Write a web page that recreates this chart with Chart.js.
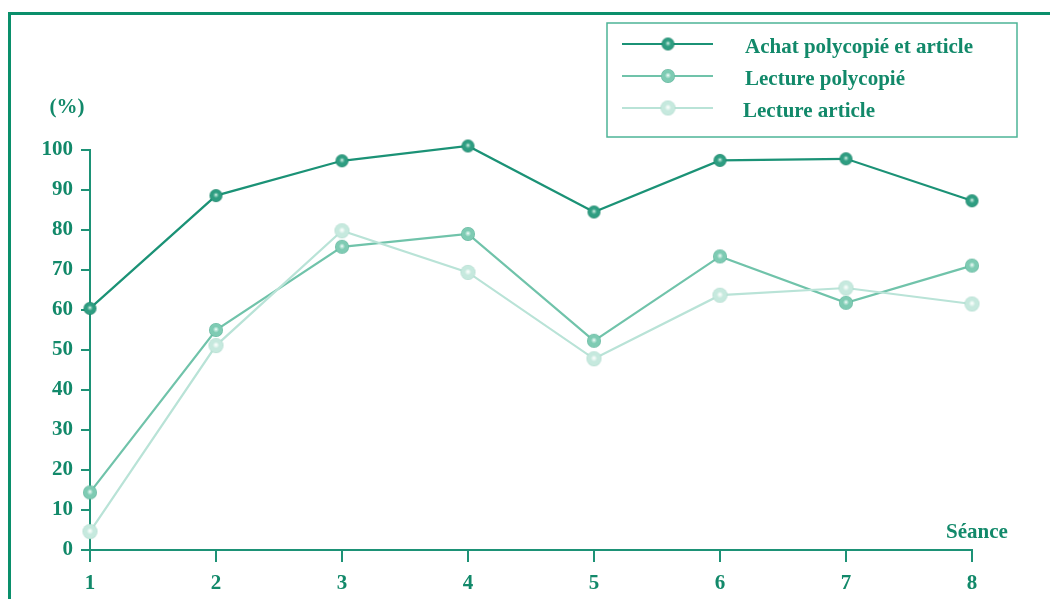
<!DOCTYPE html>
<html>
<head>
<meta charset="utf-8">
<script src="https://cdn.jsdelivr.net/npm/chart.js@4.4.1/dist/chart.umd.min.js"></script>
<style>
  body { margin: 0; background: #fff; }
  #wrap { width: 1050px; height: 599px; position: relative; }
</style>
</head>
<body>
<div id="wrap"><canvas id="seances"></canvas></div>
<script>
// séances and percentages per series
const seances = ['1', '2', '3', '4', '5', '6', '7', '8'];
const achat = [60.4, 88.6, 97.3, 101, 84.5, 97.4, 97.8, 87.3];
const lecturePoly = [14.4, 55, 75.8, 79, 52.3, 73.4, 61.8, 71.1];
const lectureArticle = [4.6, 51.1, 79.8, 69.4, 47.8, 63.7, 65.5, 61.5];
const seriesNames = ['Achat polycopié et article', 'Lecture polycopié', 'Lecture article'];

const ink = '#12896a';
const axisCol = '#1d9276';
const serif = '"Liberation Serif", "DejaVu Serif", serif';
const font = { family: serif, weight: 'bold', size: 21 };

// little shaded balls for the markers
let ball = function(light, base, edge, r){
  const s = Math.ceil(r * 2 + 2);
  const c = document.createElement('canvas');
  c.width = s; c.height = s;
  const g = c.getContext('2d');
  const grd = g.createRadialGradient(s / 2, s / 2 - 0.8, 0, s / 2, s / 2, r);
  grd.addColorStop(0, '#ffffff');
  grd.addColorStop(0.16, light);
  grd.addColorStop(0.45, base);
  grd.addColorStop(0.85, base);
  grd.addColorStop(1, edge);
  g.fillStyle = grd;
  g.beginPath();
  g.arc(s / 2, s / 2, r, 0, Math.PI * 2);
  g.fill();
  return c;
};

const styles = [
  { line: '#1b9276', width: 2.2, dot: ball('#8fd0bd', '#2e9d81', '#167c62', 6.5) },
  { line: '#70c3aa', width: 2.2, dot: ball('#c5eadf', '#7ecbb3', '#5db299', 7) },
  { line: '#b9e3d7', width: 2.2, dot: ball('#eef9f5', '#c6e9de', '#acd9cb', 7.5) }
];

const values = [achat, lecturePoly, lectureArticle];
const datasets = values.map(function(v, i){
  return {
    label: seriesNames[i],
    data: v,
    borderColor: styles[i].line,
    borderWidth: styles[i].width,
    pointStyle: styles[i].dot,
    tension: 0,
    clip: false
  };
}).reverse();

// frame, axis captions and the boxed legend
const decor = {
  id: 'decor',
  beforeDraw: function(chart){
    const ctx = chart.ctx;
    ctx.save();
    ctx.strokeStyle = '#0a8f6b';
    ctx.lineWidth = 3;
    ctx.beginPath();
    ctx.moveTo(9.5, 600);
    ctx.lineTo(9.5, 13.5);
    ctx.lineTo(1050, 13.5);
    ctx.stroke();
    ctx.restore();
  },
  afterDraw: function(chart){
    const ctx = chart.ctx;
    ctx.save();
    ctx.fillStyle = ink;
    ctx.font = 'bold 21px ' + serif;
    ctx.textAlign = 'center';
    ctx.textBaseline = 'middle';
    ctx.fillText('(%)', 67, 108);
    ctx.fillText('Séance', 977, 533);

    // legend box
    ctx.strokeStyle = '#4db497';
    ctx.lineWidth = 1.5;
    ctx.strokeRect(607, 23, 410, 114);
    const rows = [44, 76, 108];
    const textX = [745, 745, 743];
    styles.forEach(function(st, i){
      ctx.strokeStyle = st.line;
      ctx.lineWidth = st.width;
      ctx.beginPath();
      ctx.moveTo(622, rows[i]);
      ctx.lineTo(713, rows[i]);
      ctx.stroke();
      ctx.drawImage(st.dot, 668 - st.dot.width / 2, rows[i] - st.dot.height / 2);
      ctx.fillStyle = ink;
      ctx.textAlign = 'left';
      ctx.fillText(seriesNames[i], textX[i], rows[i] + 4);
    });
    ctx.restore();
  }
};

new Chart(document.getElementById('seances').getContext('2d'), {
  type: 'line',
  data: { labels: seances, datasets: datasets },
  plugins: [decor],
  options: {
    responsive: true,
    maintainAspectRatio: false,
    animation: false,
    layout: { padding: { top: 150, right: 78, left: 0, bottom: 0 } },
    plugins: { legend: { display: false }, tooltip: { enabled: false } },
    scales: {
      x: {
        offset: false,
        afterFit: function(s){ s.height = 49; },
        grid: { drawOnChartArea: false, tickLength: 12, color: axisCol, lineWidth: 2 },
        border: { color: axisCol, width: 2 },
        ticks: { color: ink, font: font, padding: 9, maxRotation: 0 }
      },
      y: {
        min: 0,
        max: 100,
        afterFit: function(s){ s.width = 90; },
        grid: { drawOnChartArea: false, tickLength: 9, color: axisCol, lineWidth: 2 },
        border: { color: axisCol, width: 2 },
        ticks: { stepSize: 10, color: ink, font: font, padding: 8 }
      }
    }
  }
});
</script>
</body>
</html>
